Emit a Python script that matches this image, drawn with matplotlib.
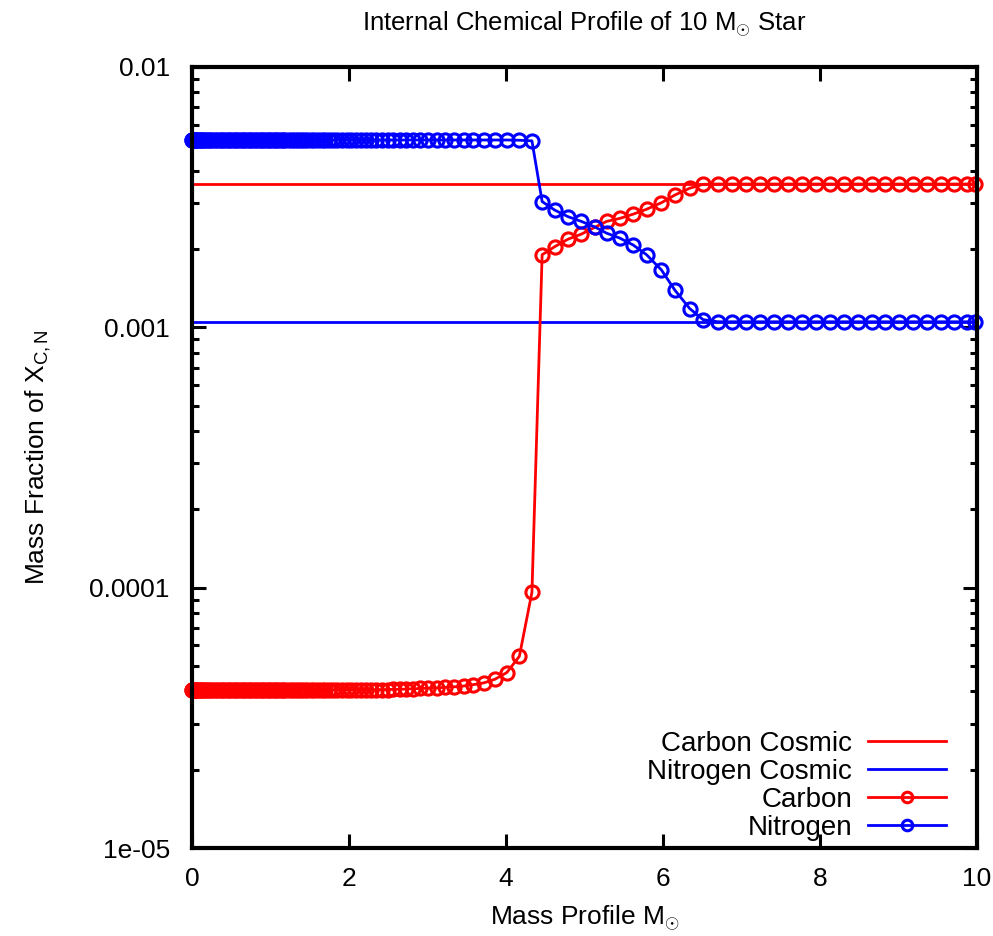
#!/usr/bin/env python3
# -*- coding: utf-8 -*-

import matplotlib
matplotlib.use('Agg')
import matplotlib.pyplot as plt
from matplotlib.ticker import FixedLocator, LogLocator, NullFormatter

# mass coordinate of each zone (solar masses)
mass = [
    0.0, 0.002, 0.006, 0.012, 0.02, 0.03, 0.042, 0.056, 0.072, 0.09,
    0.11, 0.13, 0.155, 0.18, 0.205, 0.23, 0.26, 0.29, 0.32, 0.35,
    0.38, 0.41, 0.44, 0.47, 0.50, 0.53, 0.56, 0.59, 0.62, 0.65,
    0.68, 0.71, 0.74, 0.77, 0.80, 0.83, 0.86, 0.89, 0.92, 0.95,
    0.98, 1.01, 1.04, 1.07, 1.10, 1.13, 1.16, 1.19, 1.23, 1.27,
    1.31, 1.35, 1.39, 1.43, 1.47, 1.51, 1.55, 1.60, 1.65, 1.70,
    1.75, 1.80, 1.85, 1.91, 1.97, 2.03, 2.09, 2.15, 2.21, 2.28,
    2.34, 2.42, 2.49, 2.56, 2.65, 2.73, 2.82, 2.91, 3.01, 3.12,
    3.22, 3.34, 3.46, 3.58, 3.72, 3.86, 4.01, 4.17, 4.33,
    4.46, 4.62, 4.79, 4.96, 5.13, 5.28, 5.45, 5.62, 5.79, 5.98,
    6.15, 6.34, 6.51, 6.70, 6.88, 7.06, 7.24, 7.42, 7.59, 7.77,
    7.95, 8.13, 8.30, 8.48, 8.66, 8.83, 9.01, 9.19, 9.36, 9.54,
    9.71, 9.87, 9.98,
]

carbon = [
    4.05e-5, 4.05e-5, 4.05e-5, 4.05e-5, 4.05e-5, 4.05e-5, 4.05e-5, 4.05e-5, 4.05e-5, 4.05e-5,
    4.05e-5, 4.05e-5, 4.05e-5, 4.05e-5, 4.05e-5, 4.05e-5, 4.05e-5, 4.05e-5, 4.05e-5, 4.05e-5,
    4.05e-5, 4.05e-5, 4.05e-5, 4.05e-5, 4.05e-5, 4.05e-5, 4.05e-5, 4.05e-5, 4.05e-5, 4.05e-5,
    4.05e-5, 4.05e-5, 4.05e-5, 4.05e-5, 4.05e-5, 4.05e-5, 4.05e-5, 4.05e-5, 4.05e-5, 4.05e-5,
    4.05e-5, 4.05e-5, 4.05e-5, 4.05e-5, 4.05e-5, 4.05e-5, 4.05e-5, 4.05e-5, 4.05e-5, 4.05e-5,
    4.05e-5, 4.05e-5, 4.05e-5, 4.05e-5, 4.05e-5, 4.05e-5, 4.05e-5, 4.05e-5, 4.05e-5, 4.05e-5,
    4.05e-5, 4.05e-5, 4.05e-5, 4.05e-5, 4.05e-5, 4.05e-5, 4.05e-5, 4.05e-5, 4.05e-5, 4.05e-5,
    4.05e-5, 4.06e-5, 4.06e-5, 4.07e-5, 4.07e-5, 4.08e-5, 4.09e-5, 4.10e-5, 4.11e-5, 4.12e-5,
    4.14e-5, 4.16e-5, 4.19e-5, 4.24e-5, 4.31e-5, 4.45e-5, 4.72e-5, 5.45e-5, 9.6e-5,
    1.90e-3, 2.04e-3, 2.18e-3, 2.28e-3, 2.42e-3, 2.55e-3, 2.62e-3, 2.72e-3, 2.84e-3, 3.01e-3,
    3.22e-3, 3.42e-3, 3.54e-3, 3.55e-3, 3.55e-3, 3.55e-3, 3.55e-3, 3.55e-3, 3.55e-3, 3.55e-3,
    3.55e-3, 3.55e-3, 3.55e-3, 3.55e-3, 3.55e-3, 3.55e-3, 3.55e-3, 3.55e-3, 3.55e-3, 3.55e-3,
    3.55e-3, 3.55e-3, 3.55e-3,
]

nitrogen = [
    5.24e-3, 5.24e-3, 5.24e-3, 5.24e-3, 5.24e-3, 5.24e-3, 5.24e-3, 5.24e-3, 5.24e-3, 5.24e-3,
    5.24e-3, 5.24e-3, 5.24e-3, 5.24e-3, 5.24e-3, 5.24e-3, 5.24e-3, 5.24e-3, 5.24e-3, 5.24e-3,
    5.24e-3, 5.24e-3, 5.24e-3, 5.24e-3, 5.24e-3, 5.24e-3, 5.24e-3, 5.24e-3, 5.24e-3, 5.24e-3,
    5.24e-3, 5.24e-3, 5.24e-3, 5.24e-3, 5.24e-3, 5.24e-3, 5.24e-3, 5.24e-3, 5.24e-3, 5.24e-3,
    5.24e-3, 5.24e-3, 5.24e-3, 5.24e-3, 5.24e-3, 5.24e-3, 5.24e-3, 5.24e-3, 5.24e-3, 5.24e-3,
    5.24e-3, 5.24e-3, 5.24e-3, 5.24e-3, 5.24e-3, 5.24e-3, 5.24e-3, 5.24e-3, 5.24e-3, 5.24e-3,
    5.24e-3, 5.24e-3, 5.24e-3, 5.24e-3, 5.24e-3, 5.24e-3, 5.24e-3, 5.24e-3, 5.24e-3, 5.24e-3,
    5.24e-3, 5.24e-3, 5.24e-3, 5.24e-3, 5.24e-3, 5.24e-3, 5.24e-3, 5.24e-3, 5.24e-3, 5.24e-3,
    5.24e-3, 5.24e-3, 5.24e-3, 5.24e-3, 5.24e-3, 5.24e-3, 5.24e-3, 5.23e-3, 5.20e-3,
    3.04e-3, 2.82e-3, 2.66e-3, 2.55e-3, 2.43e-3, 2.30e-3, 2.20e-3, 2.07e-3, 1.90e-3, 1.66e-3,
    1.39e-3, 1.18e-3, 1.07e-3, 1.05e-3, 1.05e-3, 1.05e-3, 1.05e-3, 1.05e-3, 1.05e-3, 1.05e-3,
    1.05e-3, 1.05e-3, 1.05e-3, 1.05e-3, 1.05e-3, 1.05e-3, 1.05e-3, 1.05e-3, 1.05e-3, 1.05e-3,
    1.05e-3, 1.05e-3, 1.05e-3,
]

# solar (cosmic) abundances
carbon_cosmic = 3.55e-3
nitrogen_cosmic = 1.05e-3

y_ticks = [1e-5, 1e-4, 1e-3, 1e-2]
y_tick_labels = ['1e-05', '0.0001', '0.001', '0.01']
x_ticks = [0, 2, 4, 6, 8, 10]

plt.rcParams['font.family'] = ['Liberation Sans', 'DejaVu Sans']
plt.rcParams['mathtext.fontset'] = 'custom'
plt.rcParams['mathtext.rm'] = 'Liberation Sans'
plt.rcParams['mathtext.it'] = 'Liberation Sans'
plt.rcParams['font.size'] = 19

fig = plt.figure(figsize=(9.93, 9.36), dpi=100)
ax = fig.add_axes([0.1934, 0.094, 0.7905, 0.8345])

lw = 2.0
ax.axhline(carbon_cosmic, color='#ff0000', lw=lw, label='Carbon Cosmic')
ax.axhline(nitrogen_cosmic, color='#0000ff', lw=lw, label='Nitrogen Cosmic')
ax.plot(mass, carbon, color='#ff0000', lw=lw, marker='o', ms=9.5, mfc='none',
        mew=2.2, label='Carbon', clip_on=False)
ax.plot(mass, nitrogen, color='#0000ff', lw=lw, marker='o', ms=9.5, mfc='none',
        mew=2.2, label='Nitrogen', clip_on=False)

ax.set_yscale('log')
ax.set_xlim(0, 10)
ax.set_ylim(1e-5, 1e-2)

ax.yaxis.set_major_locator(FixedLocator(y_ticks))
ax.set_yticklabels(y_tick_labels)
ax.yaxis.set_minor_locator(LogLocator(base=10, subs=range(2, 10)))
ax.yaxis.set_minor_formatter(NullFormatter())
ax.set_xticks(x_ticks)
ax.set_xticklabels([str(t) for t in x_ticks])

for s in ax.spines.values():
    s.set_linewidth(3)
ax.tick_params(which='major', direction='in', length=10, width=2.2,
               top=True, right=True)
ax.tick_params(axis='x', which='major', pad=14)
ax.tick_params(axis='y', which='major', pad=16)
ax.tick_params(which='minor', direction='in', length=5, width=2.2,
               top=True, right=True)

ax.set_xlabel(r'Mass Profile M$_{\odot}$', labelpad=9)
ax.set_ylabel(r'Mass Fraction of X$_{\mathrm{C,N}}$', labelpad=26)
ax.set_title(r'Internal Chemical Profile of 10 M$_{\odot}$ Star', fontsize=18.5, pad=26)

ax.legend(loc='lower right', frameon=False, markerfirst=False, numpoints=1,
          fontsize=20, handlelength=2.8, handletextpad=0.58, labelspacing=0.07,
          markerscale=0.8, borderpad=0, borderaxespad=0,
          bbox_to_anchor=(0.9605, 0.009))

fig.savefig('out.png', dpi=100)
